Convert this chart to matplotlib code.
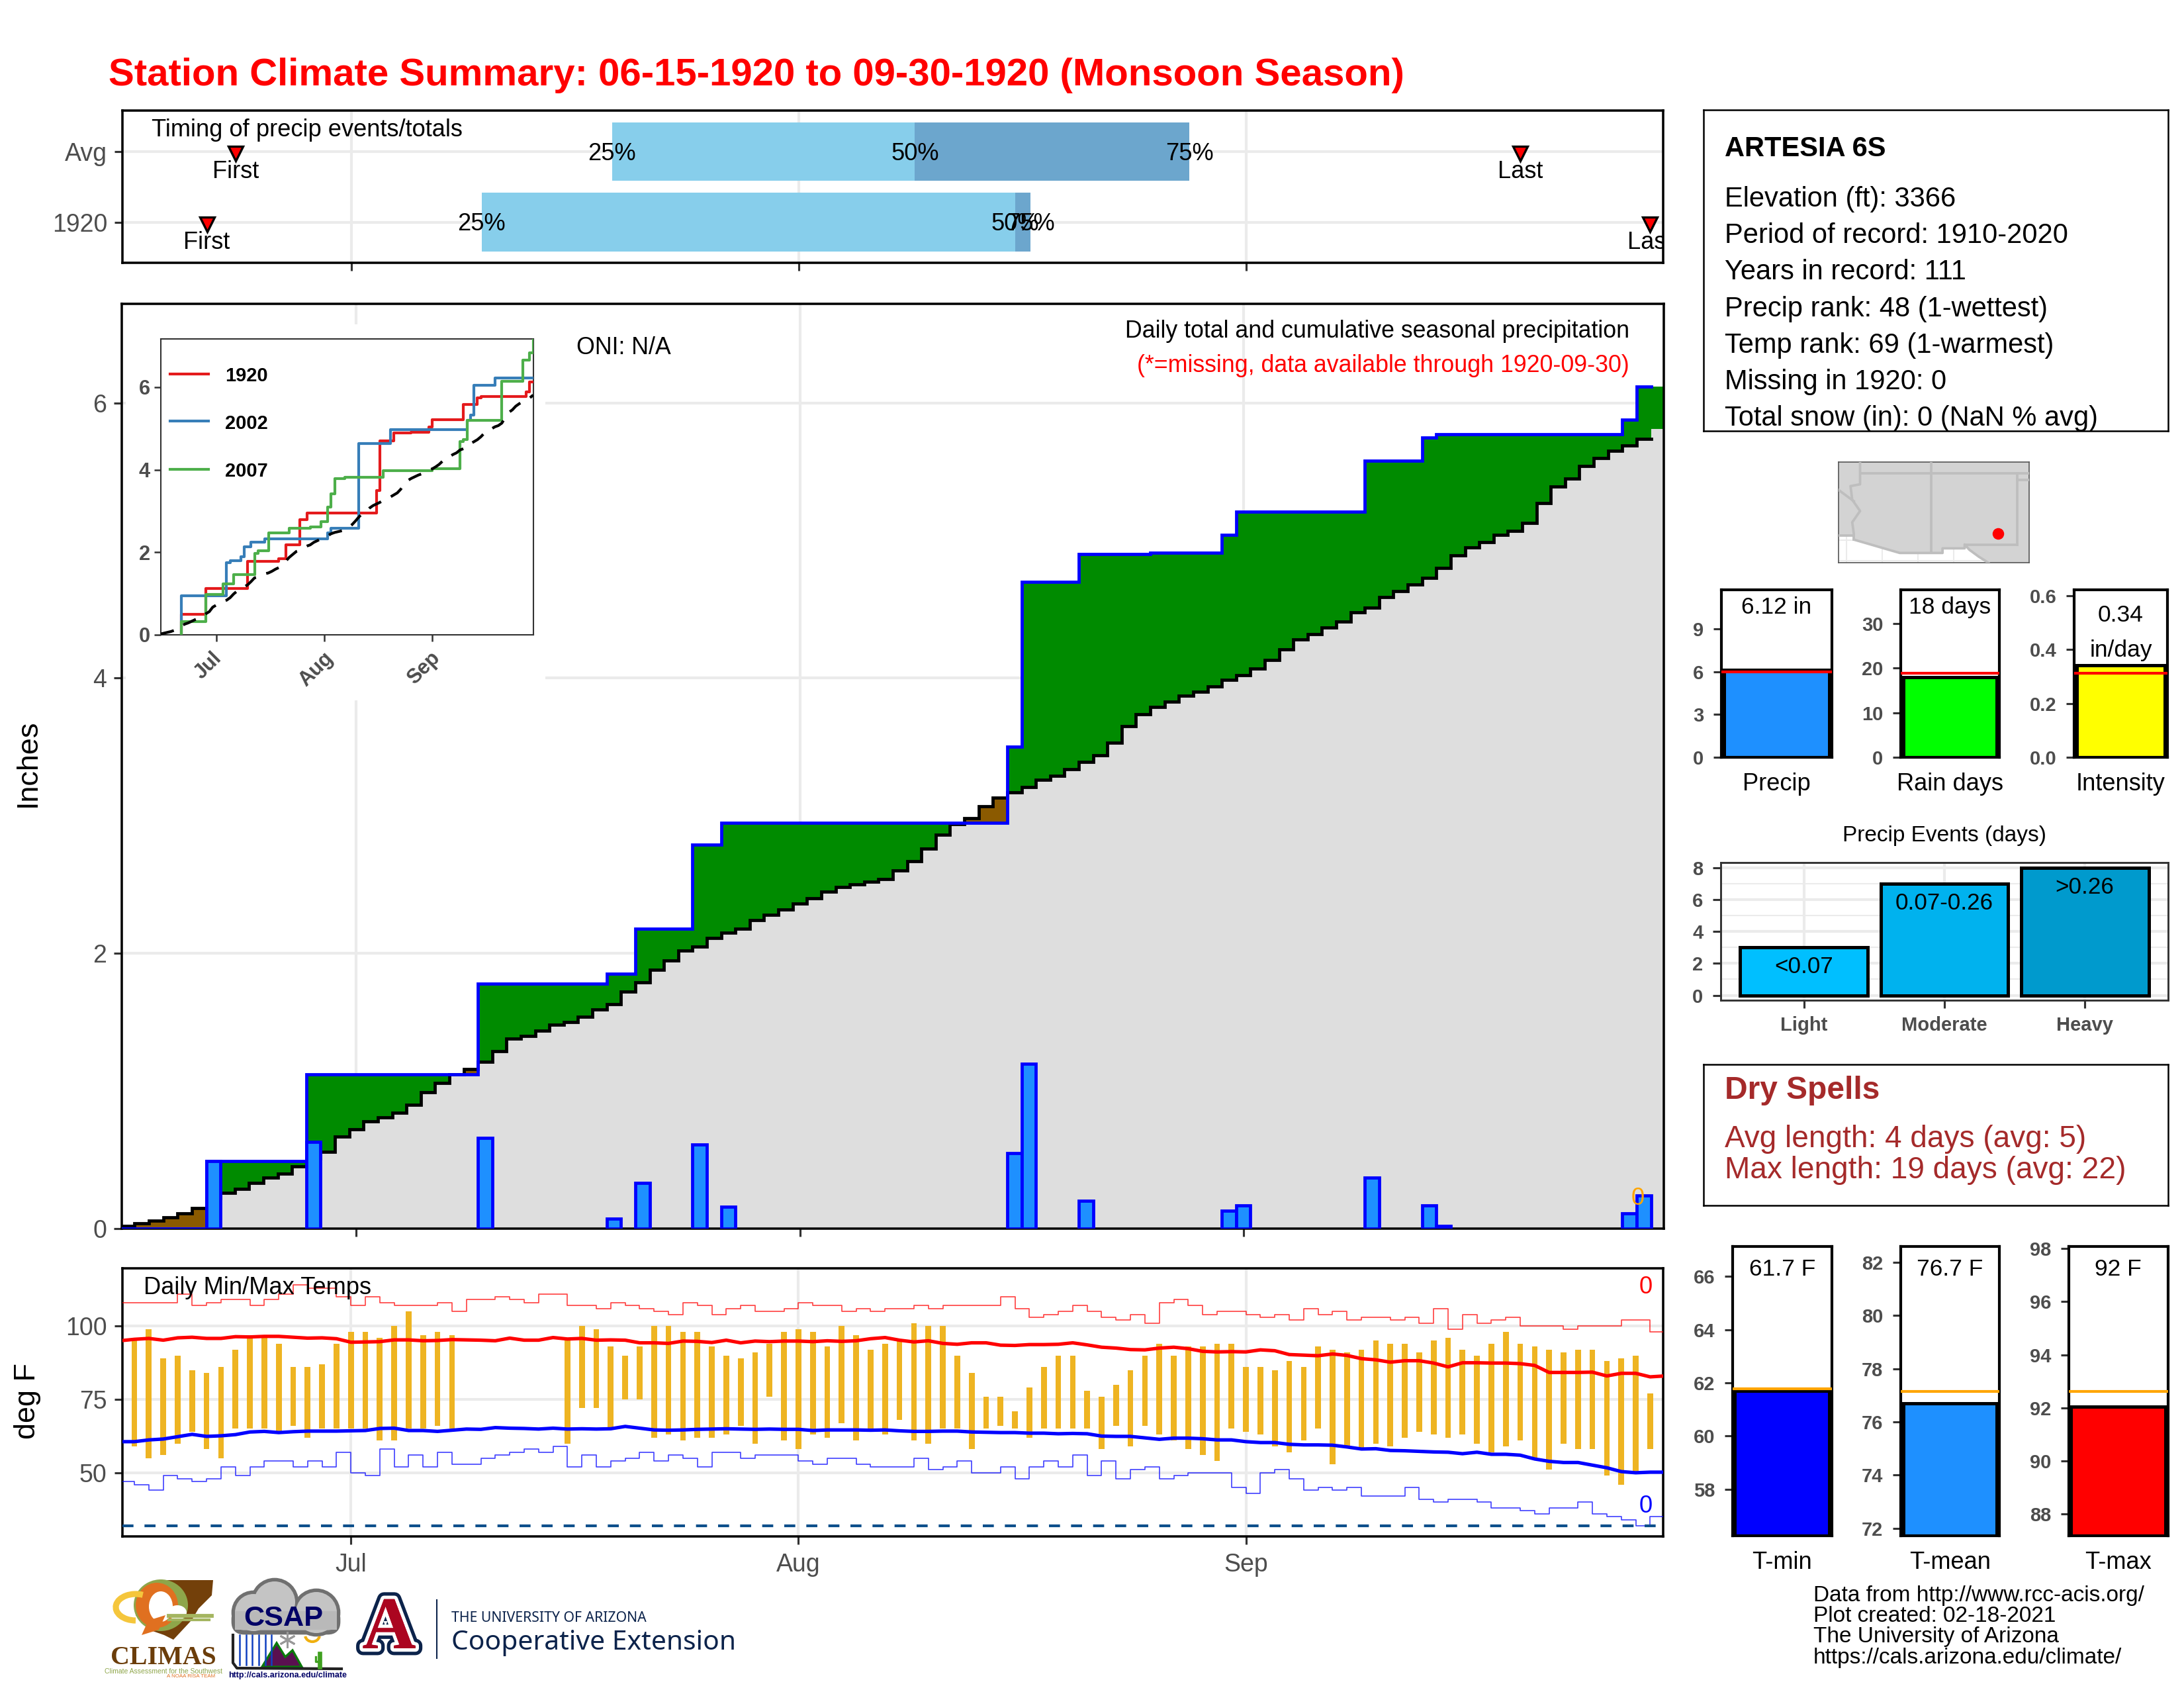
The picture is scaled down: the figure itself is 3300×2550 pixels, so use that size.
import numpy as np
import matplotlib
matplotlib.use("Agg")
import matplotlib.pyplot as plt
import matplotlib.patheffects as pe
from matplotlib.transforms import ScaledTranslation
from matplotlib.patches import Rectangle, Ellipse, Circle, Polygon, FancyBboxPatch, Arc

W, H = 3300, 2550
plt.rcParams["font.family"] = ["Liberation Sans", "DejaVu Sans"]

# x positions are day numbers counted from Jun 15
month_ticks = [16, 47, 78]
month_labels = ["Jul", "Aug", "Sep"]

rain_days = [6, 13, 25, 34, 36, 40, 42, 62, 63, 67, 72, 77, 78, 87, 91, 92, 105, 106]
rain_amt = [0.49, 0.63, 0.66, 0.07, 0.33, 0.61, 0.16, 0.55, 1.20, 0.20, 0.01, 0.13, 0.17, 0.37, 0.17, 0.02, 0.11, 0.24]

avg_cum = [0.02, 0.04, 0.06, 0.08, 0.11, 0.15, 0.22, 0.26, 0.29, 0.33,
           0.37, 0.40, 0.45, 0.51, 0.56, 0.67, 0.72, 0.78, 0.81, 0.84,
           0.90, 0.99, 1.06, 1.12, 1.16, 1.21, 1.29, 1.38, 1.40, 1.44,
           1.48, 1.50, 1.54, 1.59, 1.63, 1.72, 1.79, 1.88, 1.95, 2.02,
           2.05, 2.11, 2.15, 2.18, 2.24, 2.28, 2.32, 2.36, 2.40, 2.45,
           2.48, 2.50, 2.52, 2.54, 2.60, 2.67, 2.76, 2.86, 2.94, 2.98,
           3.07, 3.13, 3.17, 3.21, 3.26, 3.29, 3.34, 3.39, 3.44, 3.53,
           3.65, 3.74, 3.79, 3.83, 3.87, 3.90, 3.94, 3.99, 4.02, 4.07,
           4.13, 4.21, 4.28, 4.32, 4.37, 4.41, 4.48, 4.51, 4.59, 4.63,
           4.68, 4.73, 4.80, 4.89, 4.95, 4.99, 5.04, 5.07, 5.13, 5.27,
           5.39, 5.45, 5.54, 5.60, 5.65, 5.69, 5.74, 5.81]

# inset years, as (day, running total) at each step
y2002_days = [6, 6, 19, 20, 23, 24, 26, 30, 48, 49, 57, 66, 88, 89, 90, 96, 107]
y2002_vals = [0, 0.95, 1.75, 1.80, 1.89, 2.13, 2.24, 2.33, 2.47, 2.59, 4.64, 4.98, 5.20, 5.33, 6.04, 6.23, 6.23]
y2007_days = [6, 6, 13, 18, 21, 27, 28, 31, 37, 43, 46, 48, 49, 50, 53, 64, 78, 86, 87, 88, 98, 104, 106, 107]
y2007_vals = [0, 0.32, 0.98, 1.24, 1.46, 1.97, 2.04, 2.47, 2.58, 2.62, 2.75, 3.09, 3.41, 3.78, 3.81, 3.97, 4.03, 4.69, 4.73, 5.20, 6.14, 6.65, 6.83, 7.16]

# daily obs, day 1 to day 106
nan = float("nan")
obs_hi = [95, 99, 89, 90, 85, 84, 86, 92, 97, 97, 94, 86, 86, 87, 94, 98, 98, 96, 100, 105,
          97, 98, 97, nan, nan, nan, nan, nan, nan, nan, 95, 100, 99, 93, 90, 93, 100, 100, 98, 98,
          93, 90, 89, 91, 94, 98, 99, 98, 93, 100, 97, 92, 94, 95, 101, 100, 100, 90, 84, 76,
          76, 71, 79, 86, 90, 90, 78, 76, 80, 85, 90, 94, 90, 93, 93, 94, 94, 86, 86, 85,
          88, 86, 93, 92, 91, 92, 95, 94, 94, 91, 95, 96, 92, 90, 94, 98, 94, 93, 92, 91,
          92, 92, 88, 89, 90, 77]
obs_lo = [59, 55, 56, 60, 64, 58, 55, 65, 65, 65, 64, 66, 62, 65, 65, 65, 65, 61, 61, 65,
          65, 66, 65, nan, nan, nan, nan, nan, nan, nan, 60, 72, 72, 65, 75, 75, 62, 63, 61, 62,
          62, 63, 66, 60, 76, 61, 58, 63, 62, 67, 61, 65, 63, 68, 61, 60, 65, 65, 58, 65,
          66, 65, 62, 65, 65, 65, 65, 58, 66, 59, 66, 63, 61, 58, 56, 54, 65, 64, 63, 59,
          57, 61, 65, 53, 59, 58, 60, 59, 62, 64, 63, 62, 63, 60, 57, 59, 61, 55, 51, 60,
          58, 58, 49, 46, 50, 58]

# record high / low, day 0 to day 106
rec_hi = [108, 108, 108, 108, 111, 107, 108, 109, 109, 107,
          109, 111, 114, 113, 113, 110, 107, 110, 108, 107,
          107, 107, 108, 105, 109, 109, 110, 109, 108, 111,
          111, 107, 107, 106, 108, 107, 106, 105, 104, 108,
          107, 104, 106, 107, 105, 105, 106, 108, 107, 107,
          105, 106, 105, 106, 106, 107, 106, 107, 107, 107,
          107, 110, 106, 103, 104, 105, 107, 105, 103, 102,
          104, 101, 108, 109, 107, 104, 105, 105, 104, 103,
          104, 102, 106, 104, 105, 102, 103, 103, 102, 103,
          101, 106, 99, 104, 101, 102, 103, 100, 100, 100,
          99, 100, 100, 100, 102, 102, 98]
rec_lo = [47, 46, 44, 49, 48, 47, 48, 52, 49, 52,
          54, 54, 52, 54, 52, 57, 50, 49, 58, 52,
          56, 52, 57, 53, 53, 55, 56, 57, 58, 57,
          59, 52, 56, 52, 54, 55, 57, 54, 56, 55,
          52, 57, 57, 55, 56, 56, 56, 54, 53, 55,
          55, 53, 52, 52, 52, 55, 51, 52, 54, 50,
          50, 52, 48, 52, 54, 52, 56, 49, 54, 48,
          51, 52, 48, 49, 50, 50, 50, 45, 43, 50,
          51, 48, 44, 45, 44, 45, 42, 42, 42, 45,
          41, 40, 41, 41, 40, 38, 38, 37, 36, 38,
          38, 40, 36, 35, 34, 32, 35]

# smoothed normals, day 0 to day 107
norm_hi = [95.0, 95.5, 95.8, 95.2, 96.0, 96.2, 95.8, 95.8, 96.4, 96.3,
           96.5, 96.5, 96.2, 95.9, 96.0, 95.7, 94.5, 94.6, 94.7, 95.3,
           95.3, 95.0, 95.1, 95.4, 95.3, 95.2, 95.0, 95.9, 95.2, 95.2,
           96.1, 95.6, 95.8, 95.2, 95.3, 95.2, 94.3, 94.3, 94.1, 94.9,
           94.8, 94.4, 95.2, 94.3, 94.9, 94.7, 94.9, 94.9, 94.7, 95.0,
           94.8, 95.0, 95.7, 96.1, 95.2, 94.6, 95.0, 94.1, 93.8, 94.3,
           94.3, 93.5, 93.4, 93.7, 93.7, 93.8, 94.3, 93.6, 92.8, 92.5,
           92.0, 91.9, 92.5, 92.8, 92.3, 91.4, 91.2, 91.3, 91.2, 91.9,
           91.6, 90.3, 90.1, 89.9, 90.5, 90.0, 88.9, 88.5, 87.7, 88.2,
           88.2, 87.4, 86.1, 87.5, 87.5, 87.4, 87.4, 87.2, 86.6, 84.2,
           84.2, 84.2, 84.3, 83.0, 83.9, 83.9, 82.7, 83.0]
norm_lo = [60.6, 60.6, 61.2, 61.5, 62.3, 63.1, 62.4, 62.6, 63.0, 63.9,
           64.1, 63.7, 64.0, 64.2, 64.2, 64.2, 64.3, 64.4, 65.1, 65.2,
           64.4, 64.4, 64.1, 64.5, 64.9, 64.8, 65.4, 65.2, 65.1, 64.9,
           65.2, 64.9, 65.0, 64.9, 65.0, 65.8, 65.2, 64.6, 64.5, 64.6,
           64.8, 64.9, 65.0, 64.9, 64.8, 64.9, 64.8, 64.8, 64.4, 64.6,
           64.6, 64.6, 64.5, 64.6, 64.3, 64.1, 64.1, 64.2, 64.2, 63.9,
           63.8, 63.7, 63.7, 63.5, 63.5, 63.3, 63.4, 63.3, 62.5, 62.4,
           62.4, 61.9, 61.4, 61.8, 61.8, 61.6, 61.2, 61.2, 60.6, 60.3,
           60.3, 59.7, 59.5, 59.5, 59.4, 58.8, 58.1, 58.2, 57.6, 57.5,
           57.3, 57.1, 57.0, 56.5, 57.0, 56.3, 56.3, 56.0, 54.7, 53.9,
           53.5, 53.5, 52.6, 51.7, 50.4, 50.0, 50.2, 50.2]

# timing panel: 25/50/75 pct and first/last days
avg_pct = [34.06, 55.06, 74.07]
yr_pct = [25.04, 62.0, 63.06]
avg_first, avg_last = 8, 97
yr_first, yr_last = 6, 106

info_lines = ["Elevation (ft): 3366", "Period of record: 1910-2020", "Years in record: 111",
              "Precip rank: 48 (1-wettest)", "Temp rank: 69 (1-warmest)", "Missing in 1920: 0",
              "Total snow (in): 0 (NaN % avg)"]

event_labels = ["Light", "Moderate", "Heavy"]
event_days = [3, 7, 8]
event_bins = ["<0.07", "0.07-0.26", ">0.26"]
event_colors = ["#00BFFF", "#00B2EE", "#009ACD"]

footer_lines = ["Data from http://www.rcc-acis.org/", "Plot created: 02-18-2021",
                "The University of Arizona", "https://cals.arizona.edu/climate/"]

# locator map outlines, lon/lat
mex_lon = [-115.56, -114.49, -114.49, -111.27, -108.27, -108.27, -106.72, -106.72, -106.38, -105.72, -105.05, -115.56]
mex_lat = [32.54, 32.54, 32.27, 31.32, 31.32, 31.65, 31.65, 31.92, 31.54, 31.05, 30.62, 30.62]
river_lon = [-114.05, -114.05, -114.72, -114.60, -114.05, -114.60, -114.49, -114.49]
river_lat = [37.8, 36.2, 36.07, 35.1, 34.3, 33.5, 32.7, 32.27]
ca_lon = [-115.56, -114.49]
ca_lat = [35.8, 35.0]
station_lon, station_lat = -104.38, 32.70

fig = plt.figure(figsize=(11, 8.5), dpi=300, facecolor="white")
GRID = "#EBEBEB"
TICK = "#333333"
LAB = "#4D4D4D"


def px_axes(x0, y0, x1, y1, **kw):
    return fig.add_axes([x0 / W, 1 - y1 / H, (x1 - x0) / W, (y1 - y0) / H], **kw)


def ftext(x, y, s, **kw):
    # text placed by pixel, nudged to sit like the reference baseline
    kw.setdefault("va", "center")
    return fig.text(x / W, 1 - (y + 4) / H, s, **kw)


def style_ax(ax, size=9, lw=0.85, weight="normal"):
    for s in ax.spines.values():
        s.set_linewidth(lw)
        s.set_color("black")
    ax.tick_params(length=2.9, width=0.75, color=TICK, labelcolor=LAB, labelsize=size)
    for t in ax.get_xticklabels() + ax.get_yticklabels():
        t.set_fontweight(weight)


def month_grid(ax):
    ax.set_xticks(month_ticks)
    ax.grid(axis="x", color=GRID, lw=1.0, zorder=0)
    ax.set_axisbelow(True)


def step_xy(vals):
    # each value holds from day-0.5 to day+0.5
    vals = np.asarray(vals, dtype=float)
    edges = np.arange(len(vals) + 1) - 0.5
    return np.repeat(edges, 2)[1:-1], np.repeat(vals, 2)


days = np.arange(108)
daily = np.zeros(108)
daily[rain_days] = rain_amt
cum = np.cumsum(daily)

# ---- title
ftext(164, 110, "Station Climate Summary: 06-15-1920 to 09-30-1920 (Monsoon Season)",
      color="red", fontsize=13.95, fontweight="bold", ha="left")

# ---- timing panel
ax = px_axes(185, 167, 2513, 397)
ax.set_xlim(0.15, 106.9)
ax.set_ylim(-0.575, 1.58)
month_grid(ax)
ax.set_xticklabels([])
ax.set_yticks([0, 1])
ax.set_yticklabels(["1920", "Avg"])
ax.grid(axis="y", color=GRID, lw=1.0, zorder=0)
bar_h = 0.83
ax.barh(1, avg_pct[1] - avg_pct[0], left=avg_pct[0], height=bar_h, color="#87CEEB", zorder=2)
ax.barh(1, avg_pct[2] - avg_pct[1], left=avg_pct[1], height=bar_h, color="#6CA6CD", zorder=2)
ax.barh(0, yr_pct[1] - yr_pct[0], left=yr_pct[0], height=bar_h, color="#87CEEB", zorder=2)
ax.barh(0, yr_pct[2] - yr_pct[1], left=yr_pct[1], height=bar_h, color="#6CA6CD", zorder=2)
for pcts, yy in ((avg_pct, 1), (yr_pct, 0)):
    for p, lab in zip(pcts, ["25%", "50%", "75%"]):
        ax.text(p, yy - 0.03, lab, ha="center", va="center", fontsize=8.7, zorder=4)
for d, yy, lab in ((avg_first, 1, "First"), (avg_last, 1, "Last"), (yr_first, 0, "First"), (yr_last, 0, "Last")):
    ax.plot([d], [yy - 0.03], marker="v", ms=5.5, mfc="red", mec="black", mew=0.8, ls="none", zorder=4)
    ax.text(d, yy - 0.285, lab, ha="center", va="center", fontsize=8.7, zorder=4, clip_on=True)
ax.text(2.15, 1.30, "Timing of precip events/totals", ha="left", va="center", fontsize=8.7, zorder=4)
style_ax(ax)
ax.tick_params(axis="y", pad=2.6)

# ---- main precip panel
ax = px_axes(184, 459, 2514, 1856)
ax.set_xlim(-0.4, 107.4)
ax.set_ylim(0, 6.72)
month_grid(ax)
ax.set_xticklabels([])
ax.set_yticks([0, 2, 4, 6])
ax.grid(axis="y", color=GRID, lw=1.0, zorder=0)
ax.add_patch(Rectangle((-0.1, 3.84), 29.3, 2.73, fc="white", ec="none", zorder=1))

xs, avg_s = step_xy(avg_cum)
_, cum_s = step_xy(cum)
ax.fill_between(xs, 0, np.minimum(avg_s, cum_s), color="#DEDEDE", lw=0, zorder=2)
ax.fill_between(xs, avg_s, np.maximum(avg_s, cum_s), color="#008B00", lw=0, zorder=2)
ax.fill_between(xs, cum_s, np.maximum(avg_s, cum_s), color="#8B5A00", lw=0, zorder=2)
xl, avg_l = step_xy(avg_cum[:107])
_, cum_l = step_xy(cum[:107])
ax.plot(xl, avg_l, color="black", lw=1.15, zorder=3, solid_joinstyle="miter")
ax.plot(xl, cum_l, color="blue", lw=1.15, zorder=4, solid_joinstyle="miter")
shown = [(d, a) for d, a in zip(rain_days, rain_amt) if a > 0.015]
ax.bar([d for d, a in shown], [a for d, a in shown], width=1.0, color="#1E90FF", edgecolor="blue", lw=1.15, zorder=5)
ax.text(31.4, 6.40, "ONI: N/A", ha="left", va="center", fontsize=8.6, zorder=6)
ax.text(105, 6.52, "Daily total and cumulative seasonal precipitation", ha="right", va="center", fontsize=8.6, zorder=6)
ax.text(105, 6.27, "(*=missing, data available through 1920-09-30)", ha="right", va="center", fontsize=8.6, color="red", zorder=6)
ax.text(105.6, 0.22, "0", color="orange", ha="center", va="center", fontsize=8.7, zorder=6)
style_ax(ax)
ax.tick_params(axis="y", pad=2.6)
fig.text(42 / W, 1 - 1153 / H, "Inches", rotation=90, ha="center", va="center", fontsize=10.8)

# ---- inset with wet years
ins = px_axes(243, 512, 806, 959)
ins.set_xlim(0.1, 107.07)
ins.set_ylim(0, 7.17)
ins.step(np.r_[6, days[6:]], np.r_[0, cum[6:]], where="post", color="#E41A1C", lw=1.0, zorder=3)
ins.step(y2002_days, y2002_vals, where="post", color="#377EB8", lw=1.0, zorder=4)
ins.step(y2007_days, y2007_vals, where="post", color="#4DAF4A", lw=1.0, zorder=5)
ins.plot(days, avg_cum, color="black", lw=1.0, ls=(0, (5, 4)), zorder=6)
ins.set_xticks(month_ticks)
ins.set_xticklabels(month_labels, rotation=45)
ins.set_yticks([0, 2, 4, 6])
style_ax(ins, size=7.4, lw=0.5, weight="bold")
for s in ins.spines.values():
    s.set_color(TICK)
ins.tick_params(length=2.4, width=0.6, pad=1.5)
shift = ScaledTranslation(-3 / 72, -1 / 72, fig.dpi_scale_trans)
for t in ins.get_xticklabels():
    t.set_transform(t.get_transform() + shift)
for yfrac, col, lab in ((0.882, "#E41A1C", "1920"), (0.722, "#377EB8", "2002"), (0.56, "#4DAF4A", "2007")):
    ins.plot([0.025, 0.127], [yfrac, yfrac], color=col, lw=1.0, transform=ins.transAxes)
    ins.text(0.173, yfrac - 0.008, lab, transform=ins.transAxes, fontsize=7, fontweight="bold", va="center", ha="left")

# ---- temperature panel
ax = px_axes(184.5, 1916, 2513, 2321)
ax.set_xlim(0.15, 106.9)
ax.set_ylim(28.3, 119.7)
month_grid(ax)
ax.set_xticklabels(month_labels)
ax.set_yticks([50, 75, 100])
ax.grid(axis="y", color=GRID, lw=1.0, zorder=0)
obs_days = np.arange(1, 107)
ax.bar(obs_days, np.array(obs_hi) - np.array(obs_lo), bottom=obs_lo, width=0.4, color="#EEB422", lw=0, zorder=2)
ax.step(np.arange(108), rec_hi + [rec_hi[-1]], where="post", color="red", lw=0.4, alpha=0.75, zorder=3)
ax.step(np.arange(108), rec_lo + [rec_lo[-1]], where="post", color="blue", lw=0.4, alpha=0.75, zorder=3)
ax.plot(days, norm_hi, color="red", lw=1.25, zorder=4)
ax.plot(days, norm_lo, color="blue", lw=1.25, zorder=4)
ax.axhline(32, color="#0D4F8B", lw=1.0, ls=(0, (4, 4)), zorder=3)
ax.text(1.65, 113, "Daily Min/Max Temps", ha="left", va="center", fontsize=8.7, zorder=5)
ax.text(105.7, 113.2, "0", color="red", ha="center", va="center", fontsize=8.7, zorder=5)
ax.text(105.7, 38.5, "0", color="blue", ha="center", va="center", fontsize=8.7, zorder=5)
style_ax(ax)
ax.tick_params(axis="y", pad=2.6)
ax.tick_params(axis="x", pad=3.0)
fig.text(42 / W, 1 - 2116 / H, "deg F", rotation=90, ha="center", va="center", fontsize=10.8)

# ---- station info box
box = px_axes(2574, 166, 3276, 651)
box.set_xticks([])
box.set_yticks([])
for s in box.spines.values():
    s.set_linewidth(0.6)
ftext(2606, 221, "ARTESIA 6S", fontsize=10, fontweight="bold")
for i, line in enumerate(info_lines):
    ftext(2606, 297 + i * 55.2, line, fontsize=10)

# ---- locator map
mp = px_axes(2778, 698, 3066, 850)
mp.set_xlim(-115.56, -102.2)
mp.set_ylim(30.63, 37.78)
mp.set_facecolor("#D3D3D3")
mp.add_patch(Polygon(list(zip(mex_lon, mex_lat)), fc="white", ec="none", zorder=1))
for lon in [-115, -112.5, -110, -107.5, -105]:
    mp.plot([lon, lon], [30.6, 32.5], color=GRID, lw=0.5, zorder=1.5)
for lat in [32.25, 30.75]:
    mp.plot([-115.6, -105.0], [lat, lat], color=GRID, lw=0.5, zorder=1.5)
mp.add_patch(Polygon(list(zip([-114.49, -111.27, -108.27, -108.27, -106.72, -106.72, -106.38, -105.72, -105.05, -102.2, -102.2, -115.56, -115.56, -114.49],
                              [32.27, 31.32, 31.32, 31.65, 31.65, 31.92, 31.54, 31.05, 30.62, 30.62, 37.78, 37.78, 32.54, 32.54])),
                     fc="#D3D3D3", ec="none", zorder=2))
border = "#BEBEBE"
mp.plot(mex_lon[1:11], mex_lat[1:11], color=border, lw=0.9, zorder=3)
mp.plot([-115.56, -114.49], [32.54, 32.54], color=border, lw=0.9, zorder=3)
mp.plot(river_lon, river_lat, color=border, lw=0.9, zorder=3)
mp.plot(ca_lon, ca_lat, color=border, lw=0.9, zorder=3)
mp.plot([-114.05, -102.2], [37, 37], color=border, lw=0.9, zorder=3)
mp.plot([-109.05, -109.05], [37.78, 31.32], color=border, lw=0.9, zorder=3)
mp.plot([-103.04, -103.04], [37, 31.92], color=border, lw=0.9, zorder=3)
mp.plot([-106.72, -103.04], [31.92, 31.92], color=border, lw=0.9, zorder=3)
mp.plot([-103.04, -102.2], [36.5, 36.5], color=border, lw=0.9, zorder=3)
mp.plot([station_lon], [station_lat], "o", color="red", ms=4.2, mew=0, zorder=4)
mp.set_xticks([])
mp.set_yticks([])
for s in mp.spines.values():
    s.set_linewidth(0.4)
    s.set_color("#555555")


def stat_bar(x0, x1, y0, y1, ylim, ticks, val, ref, color, refcolor, texts, label, label_y, ticklabels=None):
    a = px_axes(x0, y0, x1, y1)
    a.set_xlim(-0.5, 0.5)
    a.set_ylim(*ylim)
    a.bar(0, val - ylim[0], bottom=ylim[0], width=0.95, color=color, edgecolor="black", lw=1.2, zorder=2)
    a.axhline(ref, color=refcolor, lw=1.0, zorder=3)
    a.set_xticks([])
    a.set_yticks(ticks)
    if ticklabels:
        a.set_yticklabels(ticklabels)
    style_ax(a, size=7, lw=1.0, weight="bold")
    for frac, t in texts:
        a.text(0.5, frac, t, transform=a.transAxes, ha="center", va="center", fontsize=8.5, zorder=4)
    ftext((x0 + x1) / 2, label_y, label, ha="center", fontsize=8.7)


stat_bar(2601, 2768, 891, 1144, (0, 11.76), [0, 3, 6, 9], 6.12, 5.98, "#1E90FF", "red", [(0.897, "6.12 in")], "Precip", 1181)
stat_bar(2872, 3021, 891, 1144, (0, 37.6), [0, 10, 20, 30], 18, 18.9, "#00FF00", "red", [(0.897, "18 days")], "Rain days", 1181)
stat_bar(3134, 3275, 891, 1144, (0, 0.621), [0, 0.2, 0.4, 0.6], 0.34, 0.312, "#FFFF00", "red",
         [(0.847, "0.34"), (0.64, "in/day")], "Intensity", 1181, ["0.0", "0.2", "0.4", "0.6"])

stat_bar(2617.6, 2768, 1883, 2320, (56.25, 67.13), [58, 60, 62, 64, 66], 61.7, 61.77, "#0000FF", "orange", [(0.922, "61.7 F")], "T-min", 2356)
stat_bar(2872, 3021, 1883, 2320, (71.72, 82.6), [72, 74, 76, 78, 80, 82], 76.7, 77.15, "#1E90FF", "orange", [(0.922, "76.7 F")], "T-mean", 2356)
stat_bar(3125.6, 3276, 1883, 2320, (87.18, 98.08), [88, 90, 92, 94, 96, 98], 92.05, 92.62, "#FF0000", "orange", [(0.922, "92 F")], "T-max", 2356)

# ---- precip events
ev = px_axes(2600, 1303, 3276, 1511)
ev.set_xlim(-0.594, 2.594)
ev.set_ylim(-0.31, 8.34)
ev.set_xticks(range(3))
ev.set_xticklabels(event_labels)
ev.set_yticks([0, 2, 4, 6, 8])
ev.set_yticks([1, 3, 5, 7], minor=True)
ev.grid(which="major", color=GRID, lw=1.0, zorder=0)
ev.grid(which="minor", axis="y", color=GRID, lw=0.5, zorder=0)
ev.set_axisbelow(True)
ev.bar(range(3), event_days, width=0.91, color=event_colors, edgecolor="black", lw=1.2, zorder=2)
for i, (d, t) in enumerate(zip(event_days, event_bins)):
    ev.text(i, d - 1.22, t, ha="center", va="center", fontsize=8.4, zorder=3)
style_ax(ev, size=7, lw=0.7, weight="bold")
for s in ev.spines.values():
    s.set_color(TICK)
ev.tick_params(which="minor", length=0)
ev.tick_params(axis="x", pad=2.8)
ftext(2938, 1258, "Precip Events (days)", ha="center", fontsize=8)

# ---- dry spells box
box = px_axes(2574, 1608, 3276, 1821)
box.set_xticks([])
box.set_yticks([])
for s in box.spines.values():
    s.set_linewidth(0.6)
ftext(2606, 1644, "Dry Spells", color="#A52A2A", fontsize=11.5, fontweight="bold")
ftext(2606, 1717, "Avg length: 4 days (avg: 5)", color="#A52A2A", fontsize=11.05)
ftext(2606, 1764, "Max length: 19 days (avg: 22)", color="#A52A2A", fontsize=11.05)

# ---- footer
for i, line in enumerate(footer_lines):
    ftext(2740, 2406 + i * 31.5, line, fontsize=8)

# ---- logos, roughly redrawn in pixel space
lg = fig.add_axes([0, 0, 1, 1], zorder=10)
lg.set_xlim(0, W)
lg.set_ylim(H, 0)
lg.axis("off")
lg.patch.set_alpha(0)

# CLIMAS
lg.add_patch(Polygon([(250, 2387), (322, 2387), (320, 2410), (300, 2430), (290, 2447), (262, 2477),
                      (248, 2470), (225, 2462), (205, 2440), (205, 2420)], fc="#73400A", ec="none"))
lg.add_patch(Ellipse((243, 2425), 82, 78, fc="#8EA64A", ec="none"))
lg.add_patch(Ellipse((237, 2425), 64, 68, fc="#E07020", ec="none"))
lg.add_patch(Ellipse((243, 2427), 36, 46, fc="white", ec="none"))
lg.add_patch(Ellipse((268, 2436), 28, 22, fc="white", ec="none"))
lg.add_patch(Polygon([(224, 2448), (250, 2440), (240, 2462), (214, 2470)], fc="#E07020", ec="none"))
lg.add_patch(Arc((205, 2428), 60, 40, theta1=90, theta2=300, color="#F5C63C", lw=2.2))
lg.plot([255, 320], [2441, 2441], color="#A4B560", lw=1.4)
lg.plot([255, 316], [2447, 2447], color="#A4B560", lw=1.0)
lg.text(247, 2504, "CLIMAS", family="Liberation Serif", fontsize=9.6, fontweight="bold", color="#6B3D0A", ha="center", va="center")
lg.text(247, 2525, "Climate Assessment for the Southwest", fontsize=2.5, color="#8EA64A", ha="center", va="center")
lg.text(325, 2533, "A NOAA RISA TEAM", fontsize=1.9, color="#E07020", ha="right", va="center")

# CSAP
for (cx, cy, r) in ((415, 2420, 33), (383, 2436, 30), (478, 2436, 33)):
    lg.add_patch(Circle((cx, cy), r, fc="#C4C4C4", ec="#707070", lw=1.6))
lg.add_patch(FancyBboxPatch((353, 2430), 158, 36, boxstyle="round,pad=0,rounding_size=16", fc="#B9B9B9", ec="#707070", lw=1.6))
for (cx, cy, r) in ((415, 2420, 31), (383, 2436, 28), (478, 2436, 31)):
    lg.add_patch(Circle((cx, cy), r, fc="#C4C4C4", ec="none"))
lg.add_patch(Rectangle((355, 2434), 154, 28, fc="#B9B9B9", ec="none"))
lg.text(428, 2445, "CSAP", fontsize=10.4, fontweight="bold", color="#000066", ha="center", va="center")
lg.plot([352, 352, 358, 516], [2470, 2512, 2520, 2521], color="#222222", lw=1.0)
for bx in (362, 372, 381, 391, 401, 410):
    lg.plot([bx, bx], [2470, 2515], color="#1040C0", lw=0.6)
lg.add_patch(Polygon([(396, 2518), (418, 2482), (431, 2503), (442, 2493), (456, 2518)], fc="#5A1050", ec="#0A7A0A", lw=0.8))
lg.plot([434], [2477], marker=(6, 2, 0), ms=6, color="#999999", mew=0.7)
lg.add_patch(Arc((472, 2470), 22, 20, theta1=10, theta2=170, color="#F0B010", lw=1.0))
lg.plot([483, 483], [2498, 2518], color="#40A020", lw=1.6)
lg.plot([477, 477, 483], [2503, 2510, 2510], color="#40A020", lw=0.8)
lg.text(435, 2531, "http://cals.arizona.edu/climate", fontsize=3.0, fontweight="bold", color="#000066", ha="center", va="center")

# Arizona block A
lg.text(588, 2463, "A", family="Liberation Serif", fontsize=27, fontweight="bold", color="#AB0520", ha="center", va="center",
        path_effects=[pe.withStroke(linewidth=5, foreground="#0C234B"), pe.withStroke(linewidth=2.5, foreground="white"), pe.Normal()])
lg.plot([660, 660], [2417, 2505], color="#0C234B", lw=0.5)
lg.text(682, 2445, "THE UNIVERSITY OF ARIZONA", family="Noto Sans", fontsize=5.1, color="#0C234B", ha="left", va="center")
lg.text(682, 2482, "Cooperative Extension", family="Noto Sans", fontsize=9.8, color="#0C234B", ha="left", va="center")

fig.savefig("out.png", dpi=300)
